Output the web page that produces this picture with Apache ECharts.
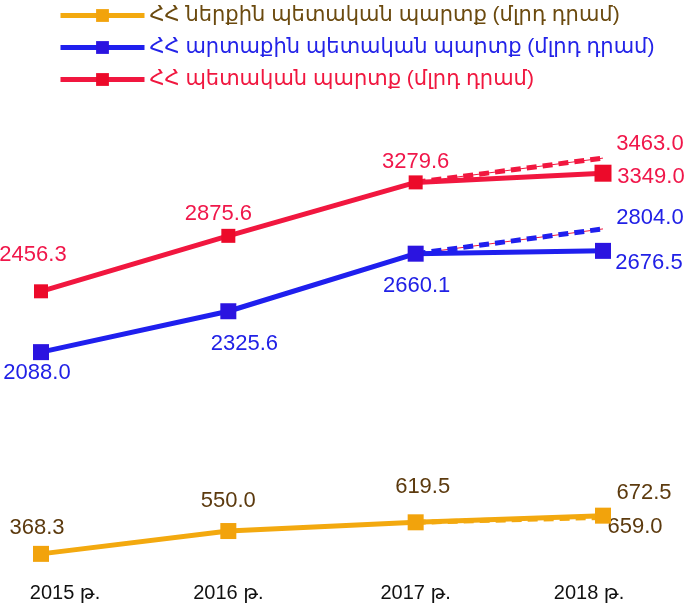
<!DOCTYPE html>
<html lang="hy">
<head>
  <meta charset="UTF-8">
  <script src="https://cdn.jsdelivr.net/npm/echarts@6/dist/echarts.min.js"></script>
  <title>public debt</title>
  <style>
    html, body { margin: 0; padding: 0; background: #fff; }
  </style>
</head>
<body>
<div id="chart" style="width: 692px; height: 606px;"></div>
<script type="text/javascript">
  // values
  const years         = ['2015 թ.', '2016 թ.', '2017 թ.', '2018 թ.'];
  const domestic      = [368.3, 550.0, 619.5, 672.5];
  const external      = [2088.0, 2325.6, 2660.1, 2676.5];
  const total         = [2456.3, 2875.6, 3279.6, 3349.0];
  const domesticPlan  = [null, null, 619.5, 659.0];
  const externalPlan  = [null, null, 2660.1, 2804.0];
  const totalPlan     = [null, null, 3279.6, 3463.0];
  const seriesNames   = [
    'ՀՀ ներքին պետական պարտք (մլրդ դրամ)',
    'ՀՀ արտաքին պետական պարտք (մլրդ դրամ)',
    'ՀՀ պետական պարտք (մլրդ դրամ)'
  ];

  const FONT = "'Liberation Sans', 'DejaVu Sans', sans-serif";
  const YELLOW = '#f3a90f', BLUE = '#1f1fee', RED = '#f1173f';

  // label placement around each point (centre offset in px), null = no label
  function labelled(values, offsets) {
    return values.map(function (v, i) {
      if (v == null) return null;
      if (!offsets[i]) return {value: v, label: {show: false}};
      return {value: v, label: {show: true, offset: offsets[i]}};
    });
  }

  function baseLabel(color) {
    return {
      show: true,
      position: 'inside',
      color: color,
      fontSize: 22,
      fontFamily: FONT,
      formatter: function (p) { return p.value.toFixed(1); }
    };
  }

  function main() {
    let chart = echarts.init(document.getElementById('chart'));
    let option = {
      backgroundColor: '#ffffff',
      animation: false,
      legend: {
        orient: 'vertical',
        left: 53,
        top: 0,
        itemWidth: 84,
        itemHeight: 16,
        itemGap: 11,
        lineStyle: {width: 5},
        textStyle: {fontSize: 21, fontFamily: FONT},
        data: [
          {name: seriesNames[0], textStyle: {color: '#6b4a0f'}},
          {name: seriesNames[1], textStyle: {color: '#2323e8'}},
          {name: seriesNames[2], textStyle: {color: '#f0173f'}}
        ]
      },
      grid: {left: 41, right: 89, top: 20, bottom: 31, containLabel: false},
      xAxis: {
        type: 'category',
        boundaryGap: false,
        data: years.map(function (y, i) {
          if (i === 0) return {value: y, textStyle: {padding: [0, 0, 0, 48]}};
          if (i === years.length - 1) return {value: y, textStyle: {padding: [0, 28, 0, 0]}};
          return y;
        }),
        axisLine: {show: false},
        axisTick: {show: false},
        splitLine: {show: false},
        axisLabel: {color: '#111', fontSize: 20, fontFamily: FONT, margin: 8}
      },
      // the picture has no value axis; each line sits on its own hidden scale
      yAxis: [
        {type: 'value', min: 200, max: 4619, show: false},
        {type: 'value', min: 793, max: 4018, show: false},
        {type: 'value', min: 312, max: 4507, show: false}
      ],
      series: [
        {
          name: 'total-plan-thin', type: 'line', yAxisIndex: 2, z: 1,
          data: totalPlan, symbol: 'none', silent: true,
          lineStyle: {color: RED, width: 1}
        },
        {
          name: 'external-plan-thin', type: 'line', yAxisIndex: 1, z: 1,
          data: externalPlan, symbol: 'none', silent: true,
          lineStyle: {color: RED, width: 1}
        },
        {
          name: 'domestic-plan', type: 'line', yAxisIndex: 0, z: 2,
          data: labelled(domesticPlan, [null, null, null, [32, 10]]),
          symbol: 'circle', symbolSize: 1, itemStyle: {color: 'rgba(0,0,0,0)'},
          lineStyle: {color: YELLOW, width: 5, type: [10, 6]},
          label: baseLabel('#5c3a0e')
        },
        {
          name: 'external-plan', type: 'line', yAxisIndex: 1, z: 2,
          data: labelled(externalPlan, [null, null, null, [47, -11]]),
          symbol: 'circle', symbolSize: 1, itemStyle: {color: 'rgba(0,0,0,0)'},
          lineStyle: {color: BLUE, width: 5, type: [10, 6]},
          label: baseLabel('#2121e6')
        },
        {
          name: 'total-plan', type: 'line', yAxisIndex: 2, z: 2,
          data: labelled(totalPlan, [null, null, null, [47, -14]]),
          symbol: 'circle', symbolSize: 1, itemStyle: {color: 'rgba(0,0,0,0)'},
          lineStyle: {color: RED, width: 5, type: [10, 6]},
          label: baseLabel('#f0174a')
        },
        {
          name: seriesNames[0], type: 'line', yAxisIndex: 0, z: 3,
          data: labelled(domestic, [[-4, -26], [0, -30], [7, -35], [41, -23]]),
          symbol: 'rect', symbolSize: 16,
          itemStyle: {color: '#f2a30c'},
          lineStyle: {color: YELLOW, width: 5},
          label: baseLabel('#5c3a0e')
        },
        {
          name: seriesNames[1], type: 'line', yAxisIndex: 1, z: 3,
          data: labelled(external, [[-4, 21], [16, 33], [1, 32], [46, 12]]),
          symbol: 'rect', symbolSize: 16,
          itemStyle: {color: '#2b14e0'},
          lineStyle: {color: BLUE, width: 5},
          label: baseLabel('#2121e6')
        },
        {
          name: seriesNames[2], type: 'line', yAxisIndex: 2, z: 3,
          data: labelled(total, [[-8, -36], [-10, -22], [0, -20], [48, 4]]),
          symbol: 'rect',
          symbolSize: function (v, p) { return p.dataIndex === 3 ? 17 : 14; },
          itemStyle: {color: '#ec0a2a'},
          lineStyle: {color: RED, width: 5},
          label: baseLabel('#f0174a')
        }
      ]
    };
    chart.setOption(option);
  }

  main();
</script>
</body>
</html>
